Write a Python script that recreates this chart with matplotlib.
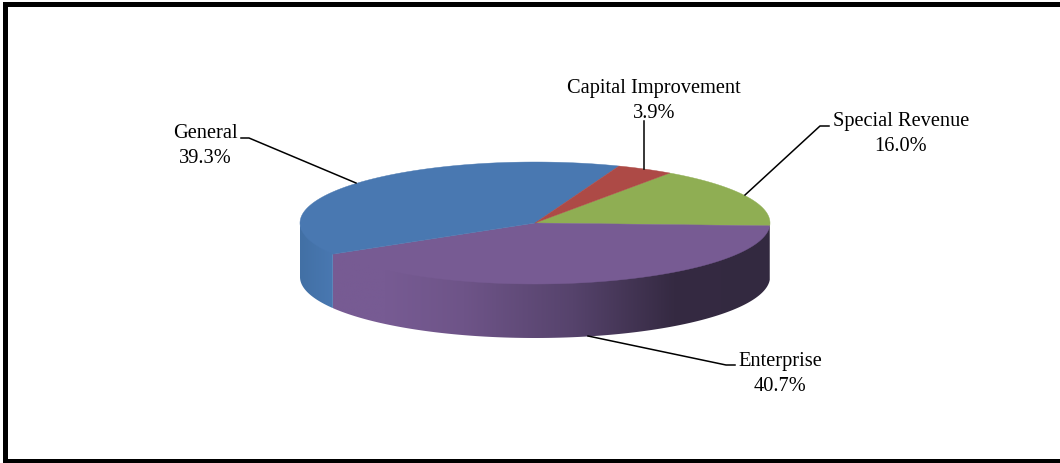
import numpy as np
import matplotlib
matplotlib.use("Agg")
import matplotlib.pyplot as plt
from matplotlib.colors import LinearSegmentedColormap
from matplotlib.patches import Polygon

plt.rcParams['font.family'] = ['Liberation Serif', 'DejaVu Serif']

# Fund shares, drawn clockwise
categories = ['Special Revenue', 'Enterprise', 'General', 'Capital Improvement']
shares = [16.0, 40.7, 39.3, 3.9]
top_colors = ['#8FAE53', '#775B93', '#4978B1', '#AD4A46']

# Pie geometry in pixels
CX, CY = 535, 224
RX, RY = 235, 61
DEPTH = 54
START_ANGLE = 55.0


def ellipse_xy(angles):
    rad = np.radians(angles)
    return CX + RX * np.cos(rad), CY - RY * np.sin(rad)


fig = plt.figure(figsize=(10.6, 4.64), dpi=100)
ax = fig.add_axes([0, 0, 1, 1])
ax.set_xlim(0, 1060)
ax.set_ylim(464, 0)
ax.axis('off')

# Outer border: left, top and bottom bars
ax.fill([3, 8, 8, 3], [3, 3, 464, 464], color='black', lw=0)
ax.fill([3, 1060, 1060, 3], [3, 3, 8, 8], color='black', lw=0)
ax.fill([3, 1060, 1060, 3], [460, 460, 464, 464], color='black', lw=0)

# Turn shares into slice angles, going clockwise
spans = np.array(shares) / sum(shares) * 360
ends = START_ANGLE - np.cumsum(spans)
starts = ends + spans

# Side wall shading, left to right across the pie
enterprise_cmap = LinearSegmentedColormap.from_list(
    'enterprise', [(0, '#775B93'), (0.12, '#775B93'), (0.3, '#6E5488'),
                   (0.55, '#56436C'), (0.78, '#352A42'), (1, '#332940')])
general_cmap = LinearSegmentedColormap.from_list(
    'general', ['#4270A5', '#4978B1'])


def draw_rim(a_from, a_to, cmap):
    # Gradient image clipped to the wall outline, avoids seams between strips.
    # The upper arc runs a little under the top face so no gap shows there.
    steps = np.linspace(a_from, a_to, 200)
    xs, ys = ellipse_xy(steps)
    outline = list(zip(xs, ys - 1.5)) + list(zip(xs[::-1], ys[::-1] + DEPTH))
    wall = Polygon(outline, closed=True, fc='none', ec='none', transform=ax.transData)
    ax.add_patch(wall)
    gradient = np.linspace(0, 1, 256).reshape(1, -1)
    img = ax.imshow(gradient, cmap=cmap, aspect='auto', interpolation='bilinear',
                    extent=[xs.min(), xs.max(), ys.max() + DEPTH, ys.min() - 1.5])
    img.set_clip_path(wall)


# Visible side walls: General on the left, Enterprise along the front
draw_rim(-180, starts[2], general_cmap)
draw_rim(ends[1], starts[1], enterprise_cmap)
ax.set_xlim(0, 1060)
ax.set_ylim(464, 0)

# Top faces
for start, end, color in zip(starts, ends, top_colors):
    arc = np.linspace(start, end, 200)
    xs, ys = ellipse_xy(arc)
    verts = [(CX, CY)] + list(zip(xs, ys))
    ax.add_patch(Polygon(verts, closed=True, fc=color, ec=color, lw=0.3, zorder=3))

# Leader lines and labels
label_specs = [
    ('Capital Improvement\n3.9%', (654, 101), [(644, 122), (644, 170)]),
    ('Special Revenue\n16.0%', (901, 134), [(829, 127), (820, 127), (745, 196)]),
    ('Enterprise\n40.7%', (780, 374), [(735, 366), (726, 366), (588, 337)]),
    ('General\n39.3%', (205, 146), [(241, 139), (249, 139), (356, 184)]),
]
for text, pos, line in label_specs:
    ax.text(pos[0], pos[1], text, ha='center', va='center', fontsize=14.7,
            color='black', linespacing=1.4, zorder=4)
    ax.plot([p[0] for p in line], [p[1] for p in line], color='black', lw=1.1, zorder=4)

fig.savefig('out.png', dpi=100)
